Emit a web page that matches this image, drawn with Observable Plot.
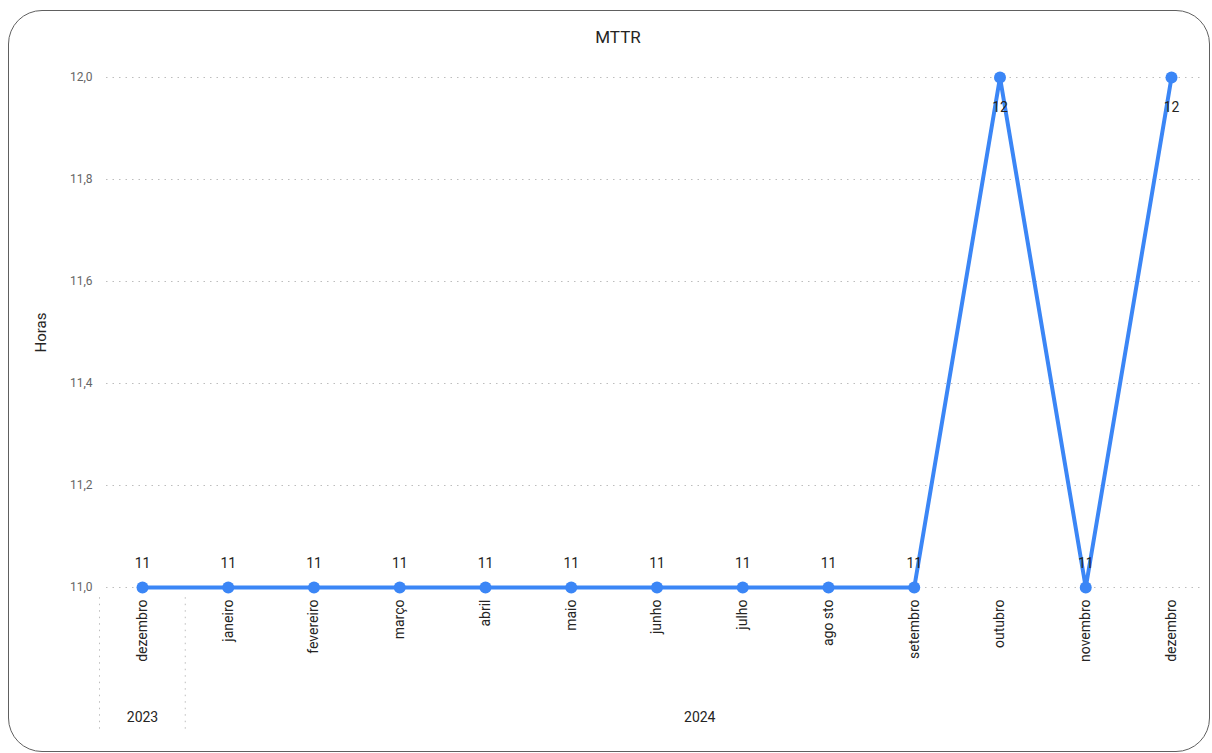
<!DOCTYPE html>
<html>
<head>
<meta charset="utf-8">
<script src="https://cdn.jsdelivr.net/npm/d3@7"></script>
<script src="https://cdn.jsdelivr.net/npm/@observablehq/plot@0.6"></script>
<style>
  html, body { margin: 0; padding: 0; background: #fff; }
  #wrap { position: relative; width: 1212px; height: 753px; overflow: hidden; }
  #card { position: absolute; left: 8px; top: 10px; width: 1202px; height: 742px;
          border: 1.5px solid #606060; border-radius: 34px; box-sizing: border-box; }
  #title { position: absolute; left: 518px; top: 27px; width: 200px; text-align: center;
           font-family: Roboto, "Noto Sans", sans-serif; font-size: 17px; color: #252423; }
  #chart { position: absolute; left: 0; top: 0; }
  #chart svg { overflow: visible; }
</style>
</head>
<body>
<div id="wrap">
  <div id="card"></div>
  <div id="title">MTTR</div>
  <div id="chart"></div>
</div>
<script>
const months = ["dezembro","janeiro","fevereiro","março","abril","maio","junho","julho","ago sto","setembro","outubro","novembro","dezembro"];
const years = [2023,2024,2024,2024,2024,2024,2024,2024,2024,2024,2024,2024,2024];
const mttr = [11,11,11,11,11,11,11,11,11,11,12,11,12];
const yTicks = [11.0,11.2,11.4,11.6,11.8,12.0];
const yearNames = ["2023", "2024"];
const yearSeparators = [0, 1];

const data = months.map((m, i) => ({key: `${m}|${years[i]}|${i}`, month: m, year: years[i], value: mttr[i]}));
const keys = data.map(d => d.key);
const fmt = v => d3.format(".1f")(v).replace(".", ",");
const blue = "#3b86f6";

const chart = Plot.plot({
  width: 1212,
  height: 753,
  marginTop: 77,
  marginBottom: 166,
  marginLeft: 99,
  marginRight: 12,
  style: {fontFamily: "Roboto, 'Noto Sans', sans-serif", fontSize: "13px", color: "#252423", background: "transparent"},
  x: {type: "point", domain: keys, range: [142, 1171], padding: 0, round: false},
  y: {domain: [11, 12]},
  marks: [
    Plot.gridY(yTicks, {stroke: "#bdbdbd", strokeOpacity: 1, strokeDasharray: "1.5,5", insetLeft: 7}),
    Plot.axisY(yTicks, {tickSize: 0, tickPadding: 7, tickFormat: fmt, fill: "#666", fontSize: 12, label: null}),
    Plot.axisY([], {label: "Horas", labelAnchor: "center", labelArrow: "none", labelOffset: 64, fill: "#252423", fontSize: 15}),
    Plot.axisX({tickRotate: -90, tickSize: 0, tickPadding: 12, tickFormat: k => k.split("|")[0], fill: "#252423", fontSize: 14, label: null}),
    Plot.ruleX(yearSeparators.map(i => keys[i]), {dx: -43, y1: 10.98, y2: 10.72, stroke: "#bdbdbd", strokeDasharray: "1.5,5"}),
    Plot.text([yearNames[0]], {x: () => keys[0], text: d => d, y: () => 10.745, fontSize: 14, fill: "#252423"}),
    Plot.text([yearNames[1]], {x: () => keys[7], text: d => d, y: () => 10.745, dx: -43, fontSize: 14, fill: "#252423"}),
    Plot.line(data, {x: "key", y: "value", stroke: blue, strokeWidth: 4}),
    Plot.dot(data, {x: "key", y: "value", r: 6, fill: blue}),
    Plot.text(data.filter(d => d.value < 12), {x: "key", y: "value", text: d => String(d.value), dy: -24, fontSize: 14, fill: "#252423"}),
    Plot.text(data.filter(d => d.value >= 12), {x: "key", y: "value", text: d => String(d.value), dy: 30, fontSize: 14, fill: "#252423"})
  ]
});
document.getElementById("chart").appendChild(chart);
</script>
</body>
</html>
